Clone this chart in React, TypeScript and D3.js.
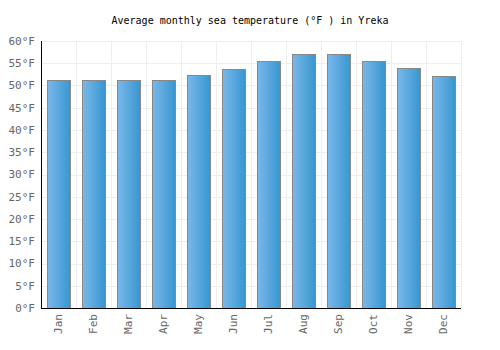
import { useEffect, useRef } from 'react';
import * as d3 from 'd3';

const months = ['Jan', 'Feb', 'Mar', 'Apr', 'May', 'Jun', 'Jul', 'Aug', 'Sep', 'Oct', 'Nov', 'Dec'];
const seaTemp = [51.3, 51.3, 51.3, 51.3, 52.3, 53.8, 55.6, 57.0, 57.0, 55.6, 54.0, 52.2];
const yTicks = [0, 5, 10, 15, 20, 25, 30, 35, 40, 45, 50, 55, 60];

export default function App() {
  const svgRef = useRef<SVGSVGElement>(null);
  const width = 500;
  const height = 350;

  useEffect(() => {
    if (!svgRef.current) return;
    const svg = d3.select(svgRef.current);
    svg.selectAll('*').remove();

    const margin = { top: 41, right: 39, bottom: 42, left: 41 };
    const innerW = width - margin.left - margin.right;
    const innerH = height - margin.top - margin.bottom;
    const font = '"DejaVu Sans Mono", monospace';

    const x = d3.scaleBand().domain(months).range([0, innerW]).paddingInner(0.33).paddingOuter(0.165);
    const xGrid = d3.scaleLinear().domain([0, months.length]).range([0, innerW]);
    const y = d3.scaleLinear().domain([0, 60]).range([innerH, 0]);

    const defs = svg.append('defs');
    const grad = defs.append('linearGradient')
      .attr('id', 'barGrad')
      .attr('x1', '0%').attr('y1', '0%')
      .attr('x2', '100%').attr('y2', '0%');
    grad.append('stop').attr('offset', '0%').attr('stop-color', '#7ab8ea');
    grad.append('stop').attr('offset', '100%').attr('stop-color', '#3796d0');

    svg.append('text')
      .attr('x', width / 2)
      .attr('y', 24)
      .attr('text-anchor', 'middle')
      .attr('font-family', font)
      .attr('font-size', 10)
      .attr('fill', '#000')
      .text('Average monthly sea temperature (°F ) in Yreka');

    const g = svg.append('g').attr('transform', `translate(${margin.left},${margin.top})`);

    // grid
    g.selectAll('line.hgrid')
      .data(yTicks)
      .join('line')
      .attr('x1', 0).attr('x2', innerW)
      .attr('y1', d => Math.round(y(d)) + 0.5)
      .attr('y2', d => Math.round(y(d)) + 0.5)
      .attr('stroke', '#eeeeee');

    g.selectAll('line.vgrid')
      .data(d3.range(months.length + 1))
      .join('line')
      .attr('y1', 0).attr('y2', innerH)
      .attr('x1', d => Math.round(xGrid(d)) + 0.5)
      .attr('x2', d => Math.round(xGrid(d)) + 0.5)
      .attr('stroke', '#eeeeee');

    // bars
    g.selectAll('rect.bar')
      .data(seaTemp)
      .join('rect')
      .attr('x', (_, i) => Math.round(x(months[i])!) + 0.5)
      .attr('width', Math.round(x.bandwidth()))
      .attr('y', d => Math.round(y(d)) + 0.5)
      .attr('height', d => Math.round(innerH - y(d)))
      .attr('fill', 'url(#barGrad)')
      .attr('stroke', '#888888')
      .attr('stroke-width', 1);

    // axes lines
    g.append('line')
      .attr('x1', 0.5).attr('x2', 0.5)
      .attr('y1', 0).attr('y2', innerH)
      .attr('stroke', '#000');
    g.append('line')
      .attr('x1', 0).attr('x2', innerW)
      .attr('y1', innerH + 0.5).attr('y2', innerH + 0.5)
      .attr('stroke', '#000');

    // y labels
    g.selectAll('text.ylab')
      .data(yTicks)
      .join('text')
      .attr('x', -6)
      .attr('y', d => y(d))
      .attr('dy', '0.35em')
      .attr('text-anchor', 'end')
      .attr('font-family', font)
      .attr('font-size', 11)
      .attr('fill', '#666')
      .text(d => `${d}°F`);

    // x labels
    g.selectAll('text.xlab')
      .data(months)
      .join('text')
      .attr('transform', d => `translate(${x(d)! + x.bandwidth() / 2},${innerH + 6}) rotate(-90)`)
      .attr('dy', '0.35em')
      .attr('text-anchor', 'end')
      .attr('font-family', font)
      .attr('font-size', 11)
      .attr('fill', '#666')
      .text(d => d);
  }, []);

  return <svg ref={svgRef} width={width} height={height} style={{ position: 'absolute', left: 0, top: 0, background: '#fff' }} />;
}
